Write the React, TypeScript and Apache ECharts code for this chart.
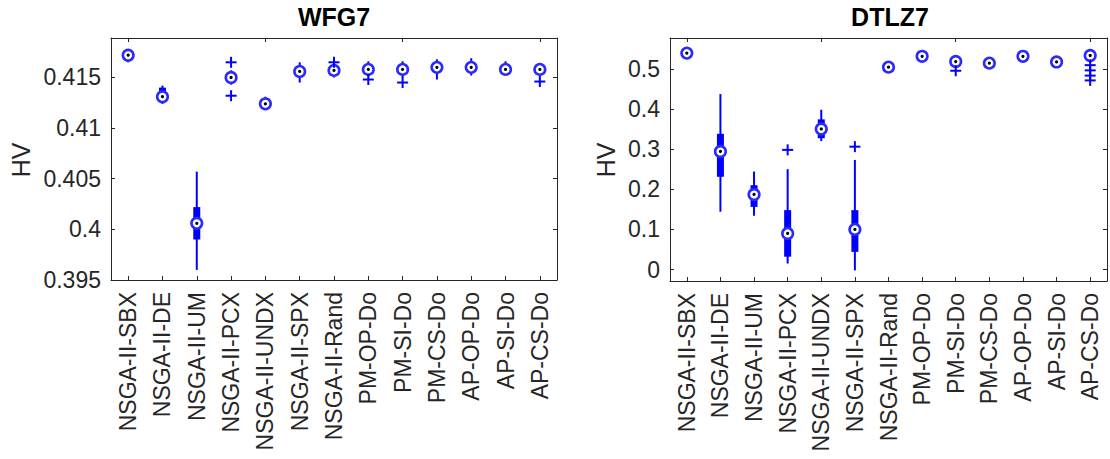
import React, { useEffect, useRef } from 'react';
import * as echarts from 'echarts';

const categories = [
  'NSGA-II-SBX', 'NSGA-II-DE', 'NSGA-II-UM', 'NSGA-II-PCX', 'NSGA-II-UNDX', 'NSGA-II-SPX',
  'NSGA-II-Rand', 'PM-OP-Do', 'PM-SI-Do', 'PM-CS-Do', 'AP-OP-Do', 'AP-SI-Do', 'AP-CS-Do',
];

// WFG7 box statistics
const wfgMin = [0.4165, 0.4124, 0.3960, 0.4143, 0.4120, 0.4145, 0.4150, 0.4151, 0.4150, 0.4148, 0.4152, 0.4153, 0.4152];
const wfgQ1 = [0.4170, 0.4127, 0.3990, 0.4146, 0.4122, 0.4151, 0.4154, 0.4155, 0.4155, 0.4155, 0.4157, 0.4156, 0.4155];
const wfgMed = [0.4172, 0.4131, 0.4006, 0.4150, 0.4124, 0.4156, 0.4157, 0.4158, 0.4158, 0.4160, 0.4160, 0.4158, 0.4158];
const wfgQ3 = [0.4175, 0.4140, 0.4022, 0.4153, 0.4128, 0.4159, 0.4159, 0.4161, 0.4161, 0.4163, 0.4164, 0.4163, 0.4162];
const wfgMax = [0.4178, 0.4142, 0.4057, 0.4157, 0.4131, 0.4165, 0.4161, 0.4166, 0.4166, 0.4168, 0.4169, 0.4166, 0.4164];
const wfgOutliers = [[3, 0.4165], [3, 0.4132], [6, 0.4165], [7, 0.4148], [8, 0.4145], [12, 0.4146]];

// DTLZ7 box statistics
const dtlzMin = [0.535, 0.144, 0.134, 0.015, 0.320, -0.002, 0.500, 0.526, 0.505, 0.509, 0.525, 0.510, 0.515];
const dtlzQ1 = [0.537, 0.231, 0.156, 0.032, 0.327, 0.044, 0.502, 0.528, 0.512, 0.511, 0.528, 0.513, 0.519];
const dtlzMed = [0.539, 0.294, 0.187, 0.090, 0.350, 0.100, 0.504, 0.531, 0.518, 0.514, 0.531, 0.517, 0.533];
const dtlzQ3 = [0.541, 0.338, 0.210, 0.148, 0.374, 0.148, 0.507, 0.533, 0.522, 0.517, 0.533, 0.520, 0.536];
const dtlzMax = [0.543, 0.437, 0.244, 0.250, 0.398, 0.273, 0.509, 0.535, 0.525, 0.520, 0.536, 0.522, 0.538];
const dtlzOutliers = [[3, 0.298], [5, 0.306], [8, 0.495], [12, 0.509], [12, 0.496], [12, 0.483], [12, 0.471]];

const titles = ['WFG7', 'DTLZ7'];
const yLabel = 'HV';

const BLUE = '#0000ff';
const TEXT = '#262626';
const FONT = 'Liberation Sans, Arial, Helvetica, sans-serif';

function boxData(mn: number[], q1: number[], md: number[], q3: number[], mx: number[]) {
  return categories.map((_, i) => [i, mn[i], q1[i], md[i], q3[i], mx[i]]);
}

const renderBox = (_params: any, api: any) => {
  const i = api.value(0);
  const pMin = api.coord([i, api.value(1)]);
  const pQ1 = api.coord([i, api.value(2)]);
  const pMed = api.coord([i, api.value(3)]);
  const pQ3 = api.coord([i, api.value(4)]);
  const pMax = api.coord([i, api.value(5)]);
  const cx = pMed[0];
  return {
    type: 'group',
    children: [
      { type: 'line', shape: { x1: cx, y1: pMax[1], x2: cx, y2: pMin[1] }, style: { stroke: BLUE, lineWidth: 2 } },
      { type: 'rect', shape: { x: cx - 3.5, y: pQ3[1], width: 7, height: Math.max(pQ1[1] - pQ3[1], 0.5) }, style: { fill: BLUE } },
      { type: 'circle', shape: { cx, cy: pMed[1], r: 5.3 }, style: { fill: '#ffffff', stroke: '#2a2aff', lineWidth: 2.6 } },
      { type: 'circle', shape: { cx, cy: pMed[1], r: 1.6 }, style: { fill: '#000000' } },
    ],
  };
};

const renderPlus = (_params: any, api: any) => {
  const p = api.coord([api.value(0), api.value(1)]);
  const h = 5.5;
  return {
    type: 'group',
    children: [
      { type: 'line', shape: { x1: p[0] - h, y1: p[1], x2: p[0] + h, y2: p[1] }, style: { stroke: BLUE, lineWidth: 2 } },
      { type: 'line', shape: { x1: p[0], y1: p[1] - h, x2: p[0], y2: p[1] + h }, style: { stroke: BLUE, lineWidth: 2 } },
    ],
  };
};

function xAxes(gridIndex: number) {
  const common = {
    gridIndex,
    type: 'category',
    data: categories,
    boundaryGap: true,
    axisLine: { show: true, onZero: false, lineStyle: { color: TEXT, width: 1 } },
    axisTick: { show: true, inside: true, alignWithLabel: true, length: 4, lineStyle: { color: TEXT } },
    splitLine: { show: false },
  };
  return [
    {
      ...common,
      position: 'bottom',
      axisLabel: { show: true, rotate: 90, interval: 0, fontSize: 23, color: TEXT, fontFamily: FONT, margin: 12 },
    },
    { ...common, position: 'top', axisLabel: { show: false } },
  ];
}

function yAxes(gridIndex: number, min: number, max: number, interval: number | undefined, digits: number, showMin: boolean) {
  const common: any = {
    gridIndex,
    type: 'value',
    min,
    max,
    axisLine: { show: true, onZero: false, lineStyle: { color: TEXT, width: 1 } },
    axisTick: { show: true, inside: true, length: 4, lineStyle: { color: TEXT } },
    splitLine: { show: false },
  };
  if (interval !== undefined) common.interval = interval;
  else common.splitNumber = 6;
  return [
    {
      ...common,
      position: 'left',
      axisLabel: {
        show: true,
        fontSize: 23,
        color: TEXT,
        fontFamily: FONT,
        margin: 10,
        showMaxLabel: false,
        showMinLabel: showMin,
        formatter: (v: number) => String(parseFloat(v.toFixed(digits))),
      },
    },
    { ...common, position: 'right', axisLabel: { show: false } },
  ];
}

export default function App() {
  const ref = useRef<HTMLDivElement>(null);
  useEffect(() => {
    if (!ref.current) return;
    const chart = echarts.init(ref.current, null, { renderer: 'svg' });
    const option: any = {
      animation: false,
      backgroundColor: '#ffffff',
      grid: [
        { left: 111, top: 38, width: 446, height: 242, containLabel: false },
        { left: 670, top: 38, width: 437, height: 243, containLabel: false },
      ],
      xAxis: [...xAxes(0), ...xAxes(1)],
      yAxis: [
        ...yAxes(0, 0.395, 0.4189, 0.005, 4, true),
        ...yAxes(1, -0.0285, 0.5766, undefined, 2, false),
      ],
      series: [
        { type: 'custom', xAxisIndex: 0, yAxisIndex: 0, data: boxData(wfgMin, wfgQ1, wfgMed, wfgQ3, wfgMax), renderItem: renderBox },
        { type: 'custom', xAxisIndex: 0, yAxisIndex: 0, data: wfgOutliers, renderItem: renderPlus },
        { type: 'custom', xAxisIndex: 2, yAxisIndex: 2, data: boxData(dtlzMin, dtlzQ1, dtlzMed, dtlzQ3, dtlzMax), renderItem: renderBox },
        { type: 'custom', xAxisIndex: 2, yAxisIndex: 2, data: dtlzOutliers, renderItem: renderPlus },
      ],
      graphic: [
        { type: 'text', x: 334, y: 17, style: { text: titles[0], textAlign: 'center', textVerticalAlign: 'middle', font: `bold 25px ${FONT}`, fill: '#000000' } },
        { type: 'text', x: 890, y: 17, style: { text: titles[1], textAlign: 'center', textVerticalAlign: 'middle', font: `bold 25px ${FONT}`, fill: '#000000' } },
        { type: 'text', x: 21, y: 160, rotation: Math.PI / 2, style: { text: yLabel, textAlign: 'center', textVerticalAlign: 'middle', font: `25px ${FONT}`, fill: TEXT } },
        { type: 'text', x: 606, y: 160, rotation: Math.PI / 2, style: { text: yLabel, textAlign: 'center', textVerticalAlign: 'middle', font: `25px ${FONT}`, fill: TEXT } },
      ],
    };
    chart.setOption(option);
    return () => chart.dispose();
  }, []);
  return <div ref={ref} style={{ position: 'absolute', left: 0, top: 0, width: 1110, height: 459 }} />;
}
